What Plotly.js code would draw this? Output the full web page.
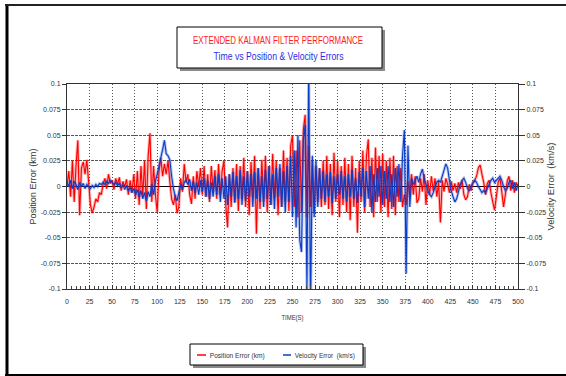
<!DOCTYPE html>
<html><head><meta charset="utf-8">
<script src="https://cdn.plot.ly/plotly-3.0.1.min.js"></script>
<style>html,body{margin:0;padding:0;background:#fff;overflow:hidden}#chart{width:566px;height:376px}</style>
</head><body><div id="chart"></div>
<script>
const TIME_STEP_S = 2;
const positionError = [
 0.0, 0.015, -0.01, 0.025, -0.015, 0.02, 0.045, -0.028, 0.018, 0.024,
 0.012, 0.026, 0.004, -0.018, -0.026, -0.02, -0.012, -0.015, -0.006, -0.008,
 0.002, 0.008, -0.002, 0.012, 0.003, 0.006, -0.003, 0.008, 0.002, 0.009,
 -0.004, 0.005, 0.0, 0.007, -0.008, 0.006, -0.006, 0.012, -0.012, 0.015,
 -0.018, 0.02, -0.01, 0.025, -0.022, 0.03, 0.052, -0.015, 0.02, -0.008,
 -0.025, 0.015, 0.028, 0.01, 0.022, 0.012, 0.025, 0.005, -0.012, -0.018,
 -0.008, -0.026, -0.02, 0.008, -0.005, 0.022, 0.004, 0.012, -0.008, -0.017,
 0.01, -0.012, 0.015, 0.0, 0.018, -0.008, 0.02, -0.01, 0.012, -0.015,
 0.02, -0.005, 0.016, -0.012, 0.022, -0.008, 0.015, 0.025, -0.018, -0.04,
 0.012, -0.02, 0.018, -0.015, 0.022, -0.024, 0.02, -0.012, 0.028, -0.02,
 0.015, -0.028, 0.024, -0.01, 0.03, -0.046, 0.018, -0.022, 0.026, -0.015,
 0.03, -0.025, 0.02, -0.018, 0.032, -0.012, 0.025, -0.028, 0.018, -0.02,
 0.035, -0.015, 0.028, -0.024, 0.04, 0.05, -0.02, 0.035, -0.03, 0.045,
 -0.025, 0.055, 0.07, -0.03, 0.04, -0.02, 0.025, -0.025, 0.02, -0.015,
 0.018, -0.02, 0.025, -0.018, 0.03, -0.022, 0.022, -0.028, 0.033, -0.015,
 0.025, -0.03, 0.02, -0.018, 0.028, -0.025, 0.022, -0.033, 0.03, -0.02,
 0.018, -0.045, 0.025, -0.015, 0.035, -0.025, 0.03, 0.046, -0.02, 0.028,
 -0.03, 0.038, -0.015, 0.03, -0.025, 0.032, -0.02, 0.025, -0.03, 0.028,
 -0.022, 0.03, -0.028, 0.02, -0.015, 0.018, -0.02, -0.008, -0.018, 0.005,
 -0.01, 0.012, -0.008, 0.01, -0.016, -0.012, 0.008, -0.005, 0.012, -0.018,
 0.006, -0.008, 0.01, -0.004, 0.008, -0.01, 0.004, -0.035, 0.006, -0.005,
 0.008, 0.002, -0.006, 0.005, -0.004, 0.003, -0.006, 0.004, -0.002, 0.006,
 -0.008, -0.013, -0.01, 0.002, -0.004, 0.003, 0.006, 0.01, 0.018, 0.021,
 0.012, 0.004, -0.008, 0.003, 0.006, -0.006, -0.015, -0.023, -0.01, 0.004,
 0.008, -0.005, -0.02, -0.008, 0.005, 0.01, -0.004, 0.006, -0.006, 0.004,
 0.0
];
const velocityError = [
 0.004, 0.0, 0.006, -0.002, 0.005, 0.002, -0.003, 0.004, 0.0, 0.003,
 -0.002, 0.002, 0.0, -0.002, 0.001, -0.001, 0.002, 0.0, 0.003, 0.002,
 0.004, 0.002, 0.005, 0.003, 0.006, 0.004, 0.002, 0.004, 0.001, 0.003,
 -0.001, 0.002, -0.003, 0.001, -0.004, -0.001, -0.006, -0.002, -0.008, -0.003,
 -0.01, -0.004, -0.012, -0.006, -0.014, -0.005, -0.01, 0.002, -0.008, 0.005,
 0.012, 0.02, 0.028, 0.036, 0.045, 0.032, 0.03, 0.026, 0.01, -0.002,
 -0.01, -0.014, -0.006, 0.002, -0.003, 0.004, 0.006, 0.002, 0.007, -0.004,
 0.005, -0.006, 0.004, -0.008, 0.006, -0.005, 0.008, -0.01, 0.006, -0.012,
 0.004, -0.01, 0.01, -0.008, 0.012, -0.015, 0.008, -0.012, 0.01, -0.018,
 0.012, -0.01, 0.014, -0.016, 0.01, -0.012, 0.016, -0.018, 0.01, -0.014,
 0.015, -0.01, 0.012, -0.02, 0.014, -0.012, 0.018, -0.015, 0.01, -0.02,
 0.016, -0.012, 0.02, -0.018, 0.012, -0.022, 0.018, -0.01, 0.022, -0.02,
 0.015, -0.025, 0.02, -0.015, 0.03, -0.03, 0.035, -0.04, 0.05, -0.052,
 -0.064, 0.045, 0.06, -0.1, 0.12, -0.12, 0.03, -0.03, 0.025, -0.02,
 0.018, -0.012, 0.015, -0.015, 0.012, -0.01, 0.014, -0.016, 0.01, -0.012,
 0.012, -0.008, 0.015, -0.012, 0.01, -0.015, 0.012, -0.01, 0.016, -0.012,
 0.008, -0.016, 0.014, -0.01, 0.018, -0.02, 0.015, -0.012, 0.02, -0.025,
 0.012, -0.015, 0.018, -0.01, 0.02, -0.018, 0.015, -0.012, 0.02, -0.015,
 0.012, -0.02, 0.018, -0.01, 0.022, -0.015, 0.03, 0.055, -0.085, 0.04,
 -0.02, 0.008, 0.002, 0.006, 0.01, 0.004, 0.012, 0.017, 0.008, 0.002,
 -0.004, -0.008, -0.01, -0.006, 0.0, 0.004, 0.006, 0.004, 0.01, 0.016,
 0.022, 0.018, 0.006, -0.004, -0.01, -0.015, -0.012, -0.005, 0.002, 0.006,
 0.008, 0.004, -0.002, -0.004, 0.0, 0.004, 0.006, 0.004, 0.0, -0.003,
 -0.006, -0.004, -0.006, -0.002, 0.002, 0.006, 0.008, 0.004, 0.006, 0.008,
 0.01, 0.006, 0.0, -0.004, -0.002, 0.004, 0.006, -0.002, 0.004, -0.004,
 0.002
];
const timeS = positionError.map((_, i) => i * TIME_STEP_S);

const seriesNames = ['Position Error (km)', 'Velocity Error  (km/s)'];
const xTickVals = [0,25,50,75,100,125,150,175,200,225,250,275,300,325,350,375,400,425,450,475,500];
const xTickText = xTickVals.map(String);
const yTickVals = [-0.1,-0.075,-0.05,-0.025,0,0.025,0.05,0.075,0.1];
const yTickText = ['-0.1','-0.075','-0.05','-0.025','0','0.025','0.05','0.075','0.1'];
const chartTitle = 'EXTENDED KALMAN FILTER PERFORMANCE';
const chartSubtitle = 'Time vs Position & Velocity Errors';
const xTitle = 'TIME(S)';
const yTitle = 'Position Error (km)';
const y2Title = 'Velocity Error  (km/s)';

// ---- layout helpers ----
const W = 566, H = 376;
const PL = 67, PR = 518, PT = 84, PB = 289;
const px = x => (x - PL) / (PR - PL);
const py = y => (PB - y) / (PB - PT);
const FONT = '"Liberation Sans Narrow", "Arial Narrow", "Liberation Sans", Arial, sans-serif';
const RED = '#ff0000', BLUE = '#0a3cc8';

function rect(x0, y0, x1, y1, fill, line) {
  return {type:'rect', xref:'paper', yref:'paper', x0:px(x0), x1:px(x1), y0:py(y0), y1:py(y1),
    fillcolor: fill, line: line ? {color: line, width: 1} : {width: 0}, layer:'above'};
}
function seg(x0, y0, x1, y1, color, width) {
  return {type:'line', xref:'paper', yref:'paper', x0:px(x0), x1:px(x1), y0:py(y0), y1:py(y1),
    line:{color, width}, layer:'above'};
}
function note(text, x, y, color, size) {
  return {text, xref:'paper', yref:'paper', x:px(x), y:py(y), xanchor:'center', yanchor:'middle',
    showarrow:false, font:{family:FONT, size, color}};
}

const traces = [
  {x: timeS, y: positionError, type:'scatter', mode:'lines', line:{color:RED, width:3, simplify:false}, opacity:0.3, hoverinfo:'skip', showlegend:false},
  {x: timeS, y: positionError, name: seriesNames[0], type:'scatter', mode:'lines', line:{color:RED, width:1.1, simplify:false}, showlegend:false},
  {x: timeS, y: velocityError, yaxis:'y2', type:'scatter', mode:'lines', line:{color:BLUE, width:3, simplify:false}, opacity:0.3, hoverinfo:'skip', showlegend:false},
  {x: timeS, y: velocityError, yaxis:'y2', name: seriesNames[1], type:'scatter', mode:'lines', line:{color:BLUE, width:1.1, simplify:false}, showlegend:false}
];

const axisFont = {family: FONT, size: 7, color: '#333'};
const layout = {
  width: W, height: H,
  margin: {l: PL, r: W - PR, t: PT, b: H - PB, pad: 0},
  paper_bgcolor: '#fff', plot_bgcolor: '#fff',
  showlegend: false,
  font: {family: FONT},
  xaxis: {
    range: [0, 500], tickvals: xTickVals, ticktext: xTickText, tickfont: axisFont,
    ticks: 'inside', ticklen: 4, tickcolor: '#333', ticklabelstandoff: 6,
    minor: {dtick: 5, tick0: 0, ticks: 'inside', ticklen: 3, tickcolor: '#444', showgrid: false},
    showgrid: true, gridcolor: '#555', gridwidth: 1, griddash: '1px,2px',
    showline: true, linecolor: '#333', linewidth: 1, mirror: true, zeroline: false,
    title: {text: xTitle, font: {family: FONT, size: 7, color: '#333'}, standoff: 10}
  },
  yaxis: {
    range: [-0.1, 0.1], tickvals: yTickVals, ticktext: yTickText, tickfont: axisFont,
    ticks: 'outside', ticklen: 4, tickcolor: '#333',
    showgrid: true, gridcolor: '#555', gridwidth: 1, griddash: '3px,1px',
    showline: true, linecolor: '#333', linewidth: 1, zeroline: true, zerolinecolor: '#000', zerolinewidth: 1,
    title: {text: yTitle, font: {family: FONT, size: 8.5, color: '#333'}, standoff: 2}
  },
  yaxis2: {
    overlaying: 'y', side: 'right', range: [-0.1, 0.1], tickvals: yTickVals, ticktext: yTickText, tickfont: axisFont,
    ticks: 'outside', ticklen: 6, tickcolor: '#333', showgrid: false, zeroline: false,
    showline: true, linecolor: '#333', linewidth: 1,
    title: {text: y2Title, font: {family: FONT, size: 8.5, color: '#333'}, standoff: 1}
  },
  shapes: [
    seg(7, 4, 7, 376, '#000', 3),
    seg(5, 5, 566, 5, '#222', 2),
    seg(5, 375, 566, 375, '#000', 2),
    rect(180, 30, 385, 71, '#8a8a8a', null),
    rect(177, 27, 382, 68, '#fff', '#000'),
    rect(193, 347, 366, 368, '#8a8a8a', null),
    rect(190, 344, 363, 365, '#fff', '#000'),
    seg(197, 355, 206, 355, RED, 1.5),
    seg(283, 355, 291, 355, BLUE, 1.5)
  ],
  annotations: [
    note(chartTitle, 278, 40, '#ff2020', 10.5),
    note(chartSubtitle, 278, 56, '#2b2be8', 10.5),
    note(seriesNames[0], 237.5, 355, '#333', 7.5),
    note(seriesNames[1], 325, 355, '#333', 7.5)
  ]
};

// target text widths (px) to mimic the narrow typeface of the original
const annotationWidths = [170, 130, 55, 60];
Plotly.newPlot('chart', traces, layout, {staticPlot: true, displayModeBar: false}).then(gd => {
  gd.querySelectorAll('.annotation-text').forEach((t, i) => {
    if (annotationWidths[i]) { t.setAttribute('textLength', annotationWidths[i]); t.setAttribute('lengthAdjust', 'spacingAndGlyphs'); }
  });
  const fit = (sel, w) => { const t = gd.querySelector(sel); if (t) { t.setAttribute('textLength', w); t.setAttribute('lengthAdjust', 'spacingAndGlyphs'); } };
  fit('.xtitle', 22); fit('.ytitle', 76); fit('.y2title', 88);
});
</script></body></html>
